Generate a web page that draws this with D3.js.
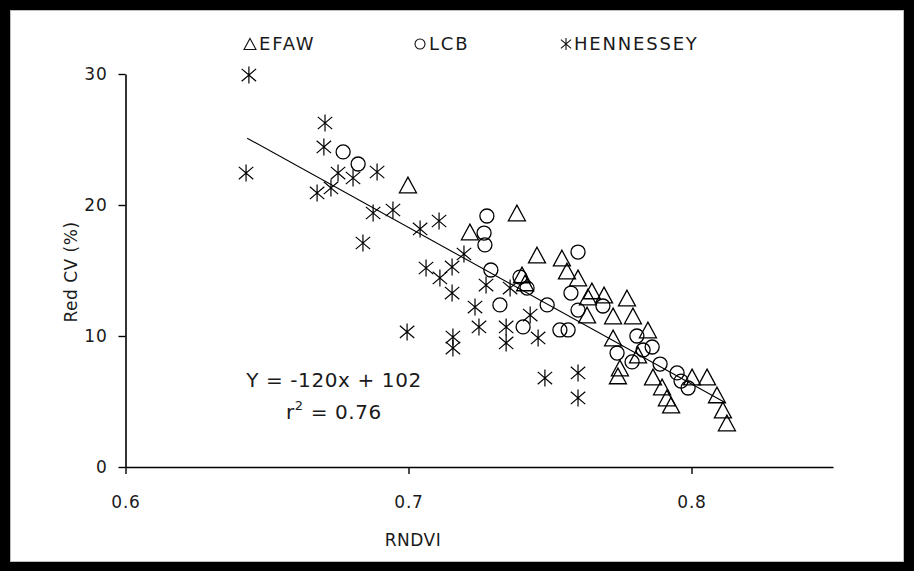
<!DOCTYPE html>
<html>
<head>
<meta charset="utf-8">
<script src="https://cdn.jsdelivr.net/npm/d3@7/dist/d3.min.js"></script>
<style>
  html, body { margin: 0; padding: 0; background: #000; }
  svg { display: block; }
  text { font-family: "DejaVu Sans", Verdana, sans-serif; fill: #1a1a1a; }
</style>
</head>
<body>
<script>
// ---- Data ----
const efawX = [0.6998, 0.7383, 0.7217, 0.7454, 0.7542, 0.7560, 0.7599, 0.7401, 0.7412, 0.7648,
               0.7691, 0.7634, 0.7772, 0.7723, 0.7793, 0.7631, 0.7846, 0.7723, 0.7747, 0.7740,
               0.7811, 0.7864, 0.7896, 0.7913, 0.7928, 0.8002, 0.8055, 0.8090, 0.8111, 0.8125];
const efawY = [21.53, 19.39, 17.94, 16.18, 15.95, 14.96, 14.43, 14.66, 14.05, 13.44,
               13.13, 12.98, 12.90, 11.53, 11.53, 11.60, 10.46, 9.85, 7.56, 6.95,
               8.55, 6.87, 6.11, 5.27, 4.73, 6.87, 6.87, 5.50, 4.35, 3.36];

const lcbX = [0.6769, 0.6822, 0.7277, 0.7267, 0.7270, 0.7291, 0.7394, 0.7419, 0.7323, 0.7405,
              0.7490, 0.7535, 0.7564, 0.7599, 0.7574, 0.7599, 0.7687, 0.7807, 0.7737, 0.7829,
              0.7861, 0.7889, 0.7790, 0.7949, 0.7963, 0.7988];
const lcbY = [24.05, 23.13, 19.16, 17.86, 16.95, 15.04, 14.50, 13.66, 12.37, 10.69,
              12.37, 10.46, 10.46, 16.41, 13.28, 11.98, 12.29, 10.00, 8.70, 8.93,
              9.16, 7.86, 8.02, 7.18, 6.56, 6.03];

const hennX = [0.6436, 0.6705, 0.6701, 0.6426, 0.6751, 0.6804, 0.6889, 0.6677, 0.6726, 0.6875,
               0.6945, 0.7041, 0.7108, 0.6839, 0.7196, 0.7062, 0.7154, 0.7111, 0.7274, 0.7359,
               0.7154, 0.7235, 0.7249, 0.7345, 0.7430, 0.7458, 0.6995, 0.7157, 0.7157, 0.7345,
               0.7482, 0.7599, 0.7599];
const hennY = [29.92, 26.26, 24.43, 22.44, 22.44, 22.06, 22.52, 20.92, 21.30, 19.39,
               19.62, 18.17, 18.78, 17.10, 16.26, 15.19, 15.27, 14.43, 13.89, 13.66,
               13.28, 12.21, 10.69, 10.69, 11.60, 9.85, 10.31, 9.92, 9.08, 9.47,
               6.79, 7.18, 5.27];

// regression line end points
const fitX = [0.643, 0.812];
const fitY = [25.1, 4.9];

const seriesNames = ["EFAW", "LCB", "HENNESSEY"];
const xTicks = [0.6, 0.7, 0.8];
const yTicks = [0, 10, 20, 30];
const xDomain = [0.6, 0.85];
const yDomain = [0, 30];
const xTitle = "RNDVI";
const yTitle = "Red CV (%)";
const eqLine1 = "Y = -120x + 102";
const eqLine2 = "0.76";

// ---- Drawing ----
const W = 914, H = 571;
const svg = d3.select("body").append("svg").attr("width", W).attr("height", H);

svg.append("rect").attr("x", 0).attr("y", 0).attr("width", W).attr("height", H).attr("fill", "#000");
svg.append("rect").attr("x", 10.5).attr("y", 10.5).attr("width", 893).attr("height", 551)
   .attr("fill", "#fff").attr("stroke", "#bdbdbd").attr("stroke-width", 1);

const x = d3.scaleLinear().domain(xDomain).range([125.5, 833]);
const y = d3.scaleLinear().domain(yDomain).range([467, 74]);

const fontSize = 17;

// axes
const gx = svg.append("g").attr("transform", `translate(0,${y(0)})`)
  .call(d3.axisBottom(x).tickValues(xTicks).tickFormat(d3.format(".1f")).tickSize(7).tickSizeOuter(0).tickPadding(22));
const gy = svg.append("g").attr("transform", `translate(${x(0.6)},0)`)
  .call(d3.axisLeft(y).tickValues(yTicks).tickFormat(d3.format("d")).tickSize(7).tickSizeOuter(0).tickPadding(11));

[gx, gy].forEach(g => {
  g.select(".domain").attr("stroke", "#000").attr("stroke-width", 1.6);
  g.selectAll(".tick line").attr("stroke", "#000").attr("stroke-width", 1.4);
  g.selectAll(".tick text").attr("font-family", "DejaVu Sans, Verdana, sans-serif")
    .attr("font-size", fontSize).attr("letter-spacing", 0.8).attr("fill", "#1a1a1a");
});

// axis titles
svg.append("text").attr("x", 413).attr("y", 546).attr("text-anchor", "middle")
   .attr("font-size", fontSize).attr("letter-spacing", 0.5).text(xTitle);
svg.append("text").attr("transform", `translate(77,272) rotate(-90)`).attr("text-anchor", "middle")
   .attr("font-size", fontSize).attr("letter-spacing", 0.5).text(yTitle);

// marker shapes
function triPath(s) { // s = width
  const h = s * 0.92;
  return `M0,${-h / 2}L${s / 2},${h / 2}L${-s / 2},${h / 2}Z`;
}
function starPath(s) {
  const r = s / 2, d = r * 0.85;
  return `M0,${-r}L0,${r}M${-d},${-d * 0.85}L${d},${d * 0.85}M${-d},${d * 0.85}L${d},${-d * 0.85}`;
}

const plot = svg.append("g");

// regression line
plot.append("line")
  .attr("x1", x(fitX[0])).attr("y1", y(fitY[0]))
  .attr("x2", x(fitX[1])).attr("y2", y(fitY[1]))
  .attr("stroke", "#000").attr("stroke-width", 1.1);

// EFAW triangles
plot.append("g").selectAll("path").data(d3.zip(efawX, efawY)).join("path")
  .attr("transform", d => `translate(${x(d[0])},${y(d[1])})`)
  .attr("d", triPath(17)).attr("fill", "none").attr("stroke", "#000").attr("stroke-width", 1.3);

// LCB circles
plot.append("g").selectAll("circle").data(d3.zip(lcbX, lcbY)).join("circle")
  .attr("cx", d => x(d[0])).attr("cy", d => y(d[1])).attr("r", 7)
  .attr("fill", "none").attr("stroke", "#000").attr("stroke-width", 1.3);

// HENNESSEY asterisks
plot.append("g").selectAll("path").data(d3.zip(hennX, hennY)).join("path")
  .attr("transform", d => `translate(${x(d[0])},${y(d[1])})`)
  .attr("d", starPath(17)).attr("fill", "none").attr("stroke", "#000").attr("stroke-width", 1.2);

// legend
const legendPos = [{sx: 250, tx: 259}, {sx: 420, tx: 429}, {sx: 566, tx: 574}];
const lg = svg.append("g");
seriesNames.forEach((name, i) => {
  const p = legendPos[i];
  const sym = lg.append("g").attr("transform", `translate(${p.sx},44)`);
  if (i === 0) sym.append("path").attr("d", triPath(12)).attr("fill", "none").attr("stroke", "#111").attr("stroke-width", 1.1);
  if (i === 1) sym.append("circle").attr("r", 5).attr("fill", "none").attr("stroke", "#111").attr("stroke-width", 1.1);
  if (i === 2) sym.append("path").attr("d", starPath(12)).attr("fill", "none").attr("stroke", "#111").attr("stroke-width", 1.1);
  lg.append("text").attr("x", p.tx).attr("y", 50).attr("font-size", 18).attr("letter-spacing", 1.8)
    .text(name);
});

// equation
svg.append("text").attr("x", 334).attr("y", 387).attr("text-anchor", "middle")
   .attr("font-size", 20).attr("letter-spacing", 0.6).text(eqLine1);
const t2 = svg.append("text").attr("x", 334).attr("y", 419).attr("text-anchor", "middle")
   .attr("font-size", 20).attr("letter-spacing", 0.6);
t2.append("tspan").text("r");
t2.append("tspan").attr("dy", -9).attr("font-size", 13).text("2");
t2.append("tspan").attr("dy", 9).text(" = " + eqLine2);
</script>
</body>
</html>
